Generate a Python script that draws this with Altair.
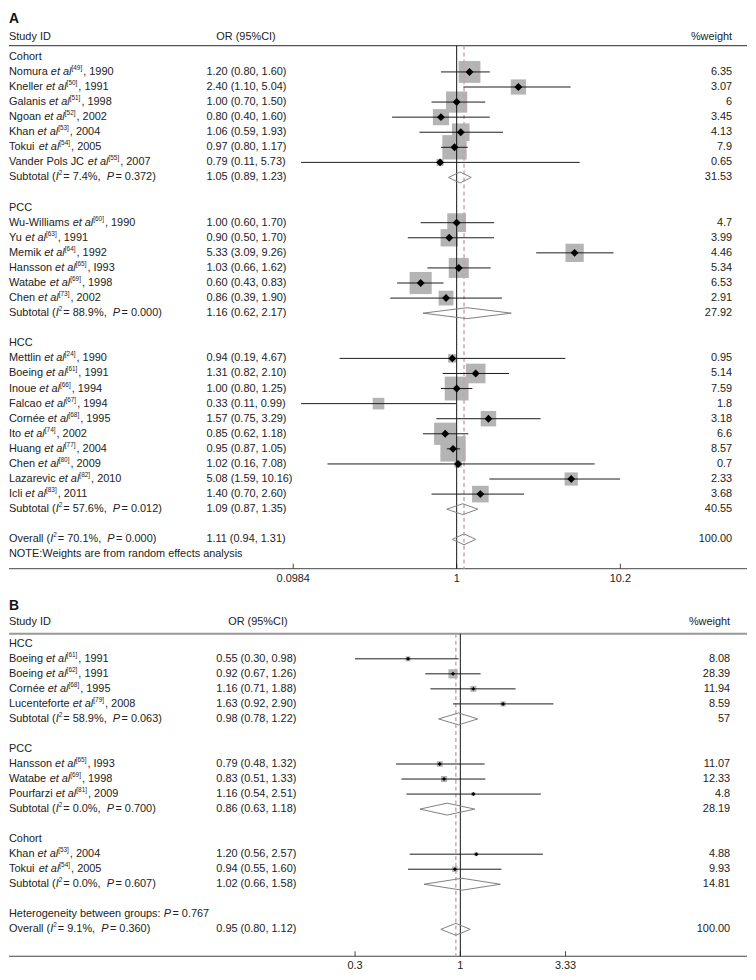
import math
import altair as alt
import pandas as pd

FONT = "Liberation Sans"
TXT = "#222222"
FS = 11
SUP_FS = 6.5
ITALIC_GAP = 1.5
SUP_GAP = 1.0

# ---------------- Panel A data ----------------
a_group_names = ["Cohort", "PCC", "HCC"]
a_labels = [
    "Nomura *et al*^[49]^, 1990",
    "Kneller *et al*^[50]^, 1991",
    "Galanis *et al*^[51]^, 1998",
    "Ngoan *et al*^[52]^, 2002",
    "Khan *et al*^[53]^, 2004",
    "Tokui *et al*^[54]^, 2005",
    "Vander Pols JC *et al*^[55]^, 2007",
    "Wu-Williams *et al*^[60]^, 1990",
    "Yu *et al*^[63]^, 1991",
    "Memik *et al*^[64]^, 1992",
    "Hansson *et al*^[65]^, I993",
    "Watabe *et al*^[69]^, 1998",
    "Chen *et al*^[73]^, 2002",
    "Mettlin *et al*^[24]^, 1990",
    "Boeing *et al*^[61]^, 1991",
    "Inoue *et al*^[66]^, 1994",
    "Falcao *et al*^[67]^, 1994",
    "Cornée *et al*^[68]^, 1995",
    "Ito *et al*^[74]^, 2002",
    "Huang *et al*^[77]^, 2004",
    "Chen *et al*^[80]^, 2009",
    "Lazarevic *et al*^[82]^, 2010",
    "Icli *et al*^[83]^, 2011",
]
a_group = ["Cohort", "Cohort", "Cohort", "Cohort", "Cohort", "Cohort", "Cohort",
           "PCC", "PCC", "PCC", "PCC", "PCC", "PCC",
           "HCC", "HCC", "HCC", "HCC", "HCC", "HCC", "HCC", "HCC", "HCC", "HCC"]
a_or = [1.20, 2.40, 1.00, 0.80, 1.06, 0.97, 0.79,
        1.00, 0.90, 5.33, 1.03, 0.60, 0.86,
        0.94, 1.31, 1.00, 0.33, 1.57, 0.85, 0.95, 1.02, 5.08, 1.40]
a_lo = [0.80, 1.10, 0.70, 0.40, 0.59, 0.80, 0.11,
        0.60, 0.50, 3.09, 0.66, 0.43, 0.39,
        0.19, 0.82, 0.80, 0.11, 0.75, 0.62, 0.87, 0.16, 1.59, 0.70]
a_hi = [1.60, 5.04, 1.50, 1.60, 1.93, 1.17, 5.73,
        1.70, 1.70, 9.26, 1.62, 0.83, 1.90,
        4.67, 2.10, 1.25, 0.99, 3.29, 1.18, 1.05, 7.08, 10.16, 2.60]
a_weight = ["6.35", "3.07", "6", "3.45", "4.13", "7.9", "0.65",
            "4.7", "3.99", "4.46", "5.34", "6.53", "2.91",
            "0.95", "5.14", "7.59", "1.8", "3.18", "6.6", "8.57", "0.7", "2.33", "3.68"]
a_marker = [True, True, True, True, True, True, True,
            True, True, True, True, True, True,
            True, True, True, False, True, True, True, True, True, True]
a_sub_labels = ["Subtotal (*I*^2^ = 7.4%, *P* = 0.372)",
                "Subtotal (*I*^2^ = 88.9%, *P* = 0.000)",
                "Subtotal (*I*^2^ = 57.6%, *P* = 0.012)"]
a_sub_or = [1.05, 1.16, 1.09]
a_sub_lo = [0.89, 0.62, 0.87]
a_sub_hi = [1.23, 2.17, 1.35]
a_sub_weight = ["31.53", "27.92", "40.55"]
a_overall_label = "Overall (*I*^2^ = 70.1%, *P* = 0.000)"
a_overall = [1.11, 0.94, 1.31]
a_overall_weight = "100.00"
a_note = "NOTE:Weights are from random effects analysis"
a_ticks = [0.0984, 1, 10.2]
a_tick_labels = ["0.0984", "1", "10.2"]

# ---------------- Panel B data ----------------
b_group_names = ["HCC", "PCC", "Cohort"]
b_labels = [
    "Boeing *et al*^[61]^, 1991",
    "Boeing *et al*^[62]^, 1991",
    "Cornée *et al*^[68]^, 1995",
    "Lucenteforte *et al*^[79]^, 2008",
    "Hansson *et al*^[65]^, I993",
    "Watabe *et al*^[69]^, 1998",
    "Pourfarzi *et al*^[81]^, 2009",
    "Khan *et al*^[53]^, 2004",
    "Tokui *et al*^[54]^, 2005",
]
b_group = ["HCC", "HCC", "HCC", "HCC", "PCC", "PCC", "PCC", "Cohort", "Cohort"]
b_or = [0.55, 0.92, 1.16, 1.63, 0.79, 0.83, 1.16, 1.20, 0.94]
b_lo = [0.30, 0.67, 0.71, 0.92, 0.48, 0.51, 0.54, 0.56, 0.55]
b_hi = [0.98, 1.26, 1.88, 2.90, 1.32, 1.33, 2.51, 2.57, 1.60]
b_weight = ["8.08", "28.39", "11.94", "8.59", "11.07", "12.33", "4.8", "4.88", "9.93"]
b_marker = [True, True, True, True, True, True, True, True, True]
b_sub_labels = ["Subtotal (*I*^2^ = 58.9%, *P* = 0.063)",
                "Subtotal (*I*^2^ = 0.0%, *P* = 0.700)",
                "Subtotal (*I*^2^ = 0.0%, *P* = 0.607)"]
b_sub_or = [0.98, 0.86, 1.02]
b_sub_lo = [0.78, 0.63, 0.66]
b_sub_hi = [1.22, 1.18, 1.58]
b_sub_weight = ["57", "28.19", "14.81"]
b_het_label = "Heterogeneity between groups: *P* = 0.767"
b_overall_label = "Overall (*I*^2^ = 9.1%, *P* = 0.360)"
b_overall = [0.95, 0.80, 1.12]
b_overall_weight = "100.00"
b_ticks = [0.3, 1, 3.33]
b_tick_labels = ["0.3", "1", "3.33"]

# ---------------- text measurement (Arial / Liberation Sans metrics) ----------------
W_ARIAL = {
    " ": 278, "\u00a0": 278, "!": 278, "%": 889, "(": 333, ")": 333, ",": 278, "-": 333,
    ".": 278, "/": 278, ":": 278, ";": 278, "=": 584, "[": 278, "]": 278,
    "A": 667, "B": 667, "C": 722, "D": 722, "E": 667, "F": 611, "G": 778, "H": 722,
    "I": 278, "J": 500, "K": 667, "L": 556, "M": 833, "N": 722, "O": 778, "P": 667,
    "Q": 778, "R": 722, "S": 667, "T": 611, "U": 722, "V": 667, "W": 944, "X": 667,
    "Y": 667, "Z": 611,
    "a": 556, "b": 556, "c": 500, "d": 556, "e": 556, "f": 278, "g": 556, "h": 556,
    "i": 222, "j": 222, "k": 500, "l": 222, "m": 833, "n": 556, "o": 556, "p": 556,
    "q": 556, "r": 333, "s": 500, "t": 278, "u": 556, "v": 500, "w": 722, "x": 500,
    "y": 500, "z": 500, "é": 556,
}


def text_width(s, size):
    return sum(W_ARIAL.get(c, 556) for c in s) * size / 1000.0


def parse_markup(s):
    segs, cur, style = [], "", "n"
    for ch in s:
        if ch in "*^":
            if cur:
                segs.append((cur, style))
            cur = ""
            tgt = "i" if ch == "*" else "s"
            style = "n" if style == tgt else tgt
        else:
            cur += ch
    if cur:
        segs.append((cur, style))
    # keep spaces at segment edges (SVG would collapse them)
    return [(t.replace(" ", "\u00a0"), st) for t, st in segs]


def build_rows(group_names, labels, groups, ors, los, his, wts, markers,
               sub_labels, sub_or, sub_lo, sub_hi, sub_wt, tail):
    rows = []
    r = 0
    for gi, g in enumerate(group_names):
        rows.append(dict(row=r, kind="group", label=g))
        r += 1
        for i in range(len(labels)):
            if groups[i] == g:
                rows.append(dict(row=r, kind="study", label=labels[i], est=ors[i],
                                 lo=los[i], hi=his[i], wt=wts[i], marker=markers[i]))
                r += 1
        rows.append(dict(row=r, kind="sub", label=sub_labels[gi], est=sub_or[gi],
                         lo=sub_lo[gi], hi=sub_hi[gi], wt=sub_wt[gi]))
        r += 2
    for t in tail:
        d = dict(row=r)
        d.update(t)
        rows.append(d)
        r += 1
    return rows


def make_panel(rows, cfg):
    W, H = cfg["W"], cfg["H"]
    ppd, one_px = cfg["ppd"], cfg["one_px"]
    xs = alt.Scale(type="log", domain=[10 ** (-one_px / ppd), 10 ** ((W - one_px) / ppd)],
                   range=[0, W], nice=False)
    r0, sp = cfg["row0"], cfg["spacing"]
    ys = alt.Scale(domain=[-r0 / sp, (H - r0) / sp], range=[0, H], nice=False, zero=False)

    segs = []
    for rw in rows:
        if not rw.get("label"):
            continue
        x = 0.0
        parts = parse_markup(rw["label"])
        for k, (txt, st) in enumerate(parts):
            segs.append(dict(row=rw["row"], tx=x, text=txt, style=st))
            x += text_width(txt, SUP_FS if st == "s" else FS)
            nxt = parts[k + 1][1] if k + 1 < len(parts) else None
            if st == "i" and nxt == "n":
                x += ITALIC_GAP
            if st == "s":
                x += SUP_GAP
    seg_df = pd.DataFrame(segs)

    est_rows = [rw for rw in rows if rw.get("est") is not None]
    col_df = pd.DataFrame([dict(row=rw["row"],
                                ortxt=f"{rw['est']:.2f} ({rw['lo']:.2f}, {rw['hi']:.2f})",
                                wt=rw["wt"]) for rw in est_rows])
    study_df = pd.DataFrame([dict(row=rw["row"], est=rw["est"], lo=rw["lo"], hi=rw["hi"],
                                  area=float(rw["wt"]) * cfg["box_k"], marker=rw["marker"])
                             for rw in rows if rw["kind"] == "study"])
    mark_df = study_df[study_df["marker"]]
    dia = []
    hh = cfg["dia_h"] / sp
    for rw in rows:
        if rw["kind"] in ("sub", "overall"):
            pts = [(rw["lo"], rw["row"]), (rw["est"], rw["row"] - hh), (rw["hi"], rw["row"]),
                   (rw["est"], rw["row"] + hh), (rw["lo"], rw["row"])]
            for k, (px, py) in enumerate(pts):
                dia.append(dict(id=rw["row"], ord=k, dx=px, dy=py))
    dia_df = pd.DataFrame(dia)
    one = pd.DataFrame({"a": [0]})
    tick_df = pd.DataFrame({"v": cfg["ticks"], "lab": cfg["tick_labels"]})
    ref_df = pd.DataFrame({"v": [1.0]})
    ov_df = pd.DataFrame({"v": [cfg["overall"]]})

    X = lambda f: alt.X(f, scale=xs, axis=None)
    Y = alt.Y("row:Q", scale=ys, axis=None)
    hl, ax = cfg["hdr_line"], cfg["axis_y"]

    layers = [
        alt.Chart(one).mark_rule(color=cfg["hdr_color"], strokeWidth=cfg["hdr_w"]).encode(
            x=alt.value(0), x2=alt.value(W), y=alt.value(hl)),
        alt.Chart(one).mark_rule(color="#444444", strokeWidth=1).encode(
            x=alt.value(0), x2=alt.value(W), y=alt.value(ax)),
        alt.Chart(tick_df).mark_rule(color="#444444", strokeWidth=1).encode(
            x=X("v:Q"), y=alt.value(ax - 5), y2=alt.value(ax)),
        alt.Chart(tick_df).mark_text(font=FONT, fontSize=FS, color=TXT, baseline="middle").encode(
            x=X("v:Q"), y=alt.value(ax + 10), text="lab:N"),
        alt.Chart(study_df).mark_square(color="#b4b4b4", filled=True, opacity=1).encode(
            x=X("est:Q"), y=Y, size=alt.Size("area:Q", scale=None, legend=None)),
        alt.Chart(ref_df).mark_rule(color="#111111", strokeWidth=1).encode(
            x=X("v:Q"), y=alt.value(hl), y2=alt.value(ax)),
        alt.Chart(ov_df).mark_rule(color="#c7a0a7", strokeWidth=1.4, strokeDash=[4, 3]).encode(
            x=X("v:Q"), y=alt.value(hl), y2=alt.value(ax)),
        alt.Chart(study_df).mark_rule(color="#1a1a1a", strokeWidth=1).encode(
            x=X("lo:Q"), x2="hi:Q", y=Y),
        alt.Chart(mark_df).mark_point(shape="diamond", filled=True, color="black", opacity=1,
                                      size=cfg["mk_size"], strokeWidth=0).encode(
            x=X("est:Q"), y=Y),
        alt.Chart(dia_df).mark_line(color="#808080", strokeWidth=1).encode(
            x=X("dx:Q"), y=alt.Y("dy:Q", scale=ys, axis=None), detail="id:N", order="ord:Q"),
    ]
    for st, props in (("n", dict(fontSize=FS)), ("i", dict(fontSize=FS, fontStyle="italic")),
                      ("s", dict(fontSize=SUP_FS, dy=-4))):
        layers.append(
            alt.Chart(seg_df).transform_filter(alt.datum.style == st).mark_text(
                font=FONT, color=TXT, align="left", baseline="middle", **props).encode(
                x=alt.X("tx:Q", scale=None, axis=None), y=Y, text="text:N"))
    layers += [
        alt.Chart(col_df).mark_text(font=FONT, fontSize=FS, color=TXT, align="left",
                                    baseline="middle").encode(
            x=alt.value(cfg["or_x"]), y=Y, text="ortxt:N"),
        alt.Chart(col_df).mark_text(font=FONT, fontSize=FS, color=TXT, align="right",
                                    baseline="middle").encode(
            x=alt.value(cfg["wt_x"]), y=Y, text="wt:N"),
        alt.Chart(one).mark_text(text="Study ID", font=FONT, fontSize=FS, color=TXT, align="left",
                                 baseline="middle").encode(x=alt.value(0), y=alt.value(cfg["hdr_y"])),
        alt.Chart(one).mark_text(text="OR (95%CI)", font=FONT, fontSize=FS, color=TXT, align="left",
                                 baseline="middle").encode(x=alt.value(cfg["or_hdr_x"]),
                                                           y=alt.value(cfg["hdr_y"])),
        alt.Chart(one).mark_text(text="%weight", font=FONT, fontSize=FS, color=TXT, align="right",
                                 baseline="middle").encode(x=alt.value(cfg["wt_x"]),
                                                           y=alt.value(cfg["hdr_y"])),
        alt.Chart(one).mark_text(text=cfg["letter"], font=FONT, fontSize=14, fontWeight="bold",
                                 color="#111111", align="left", baseline="top").encode(
            x=alt.value(0), y=alt.value(cfg["letter_y"])),
    ]
    return alt.layer(*layers).resolve_scale(x="independent").properties(width=W, height=H)


rows_a = build_rows(a_group_names, a_labels, a_group, a_or, a_lo, a_hi, a_weight, a_marker,
                    a_sub_labels, a_sub_or, a_sub_lo, a_sub_hi, a_sub_weight,
                    [dict(kind="overall", label=a_overall_label, est=a_overall[0], lo=a_overall[1],
                          hi=a_overall[2], wt=a_overall_weight),
                     dict(kind="note", label=a_note)])
rows_b = build_rows(b_group_names, b_labels, b_group, b_or, b_lo, b_hi, b_weight, b_marker,
                    b_sub_labels, b_sub_or, b_sub_lo, b_sub_hi, b_sub_weight,
                    [dict(kind="text", label=b_het_label),
                     dict(kind="overall", label=b_overall_label, est=b_overall[0], lo=b_overall[1],
                          hi=b_overall[2], wt=b_overall_weight)])

cfg_a = dict(W=744, H=592, ppd=163.6, one_px=451.3, row0=45.3, spacing=15.2,
             hdr_y=25, hdr_line=34, axis_y=561.3, hdr_color="#555555", hdr_w=1.3,
             or_x=199, or_hdr_x=209, wt_x=729, letter="A", letter_y=0,
             box_k=76.2, mk_size=64, dia_h=5.5, overall=a_overall[0],
             ticks=a_ticks, tick_labels=a_tick_labels)
cfg_b = dict(W=744, H=380, ppd=203.0, one_px=455.0, row0=45.0, spacing=15.15,
             hdr_y=23, hdr_line=35, axis_y=360, hdr_color="#999999", hdr_w=2,
             or_x=209, or_hdr_x=221, wt_x=727, letter="B", letter_y=0,
             box_k=3.06, mk_size=16, dia_h=6, overall=b_overall[0],
             ticks=b_ticks, tick_labels=b_tick_labels)

chart = alt.vconcat(make_panel(rows_a, cfg_a), make_panel(rows_b, cfg_b), spacing=0).properties(
    padding=0).configure_view(stroke=None)

chart.save("out.html", embed_options={"renderer": "svg", "actions": False})
